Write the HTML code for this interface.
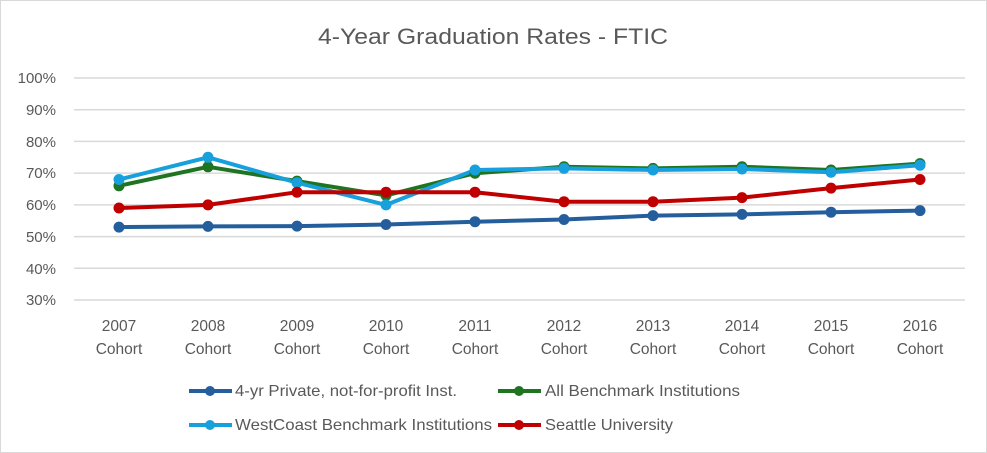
<!DOCTYPE html>
<html><head><meta charset="utf-8"><style>
html,body{margin:0;padding:0;background:#fff}
svg{display:block}
text{font-family:"Liberation Sans",sans-serif;fill:#595959}
</style></head><body>
<svg width="987" height="453" viewBox="0 0 987 453">
<rect x="0.5" y="0.5" width="986" height="452" fill="#fff" stroke="#d9d9d9"/>
<text x="318" y="44" font-size="22" textLength="350" lengthAdjust="spacingAndGlyphs">4-Year Graduation Rates - FTIC</text>
<g stroke="#d9d9d9" stroke-width="1.5">
<line x1="74" x2="965" y1="78" y2="78"/><line x1="74" x2="965" y1="109.7" y2="109.7"/>
<line x1="74" x2="965" y1="141.4" y2="141.4"/><line x1="74" x2="965" y1="173.1" y2="173.1"/>
<line x1="74" x2="965" y1="204.9" y2="204.9"/><line x1="74" x2="965" y1="236.6" y2="236.6"/>
<line x1="74" x2="965" y1="268.3" y2="268.3"/><line x1="74" x2="965" y1="300" y2="300"/>
</g>
<g font-size="15" text-anchor="end">
<text x="56" y="83">100%</text><text x="56" y="115">90%</text><text x="56" y="147">80%</text>
<text x="56" y="178">70%</text><text x="56" y="210">60%</text><text x="56" y="242">50%</text>
<text x="56" y="274">40%</text><text x="56" y="305">30%</text>
</g>
<g font-size="15.5" text-anchor="middle">
<text x="119" y="331">2007</text><text x="119" y="354">Cohort</text>
<text x="208" y="331">2008</text><text x="208" y="354">Cohort</text>
<text x="297" y="331">2009</text><text x="297" y="354">Cohort</text>
<text x="386" y="331">2010</text><text x="386" y="354">Cohort</text>
<text x="475" y="331">2011</text><text x="475" y="354">Cohort</text>
<text x="564" y="331">2012</text><text x="564" y="354">Cohort</text>
<text x="653" y="331">2013</text><text x="653" y="354">Cohort</text>
<text x="742" y="331">2014</text><text x="742" y="354">Cohort</text>
<text x="831" y="331">2015</text><text x="831" y="354">Cohort</text>
<text x="920" y="331">2016</text><text x="920" y="354">Cohort</text>
</g>
<g fill="none" stroke-width="4" stroke-linejoin="round">
<polyline stroke="#255e9c" points="119,227.1 208,226.4 297,226.1 386,224.5 475,221.7 564,219.5 653,215.6 742,214.4 831,212.2 920,210.6"/>
<polyline stroke="#1e7420" points="119,185.8 208,166.8 297,181.1 386,195.4 475,173.2 564,166.8 653,168.4 742,166.8 831,170 920,163.6"/>
<polyline stroke="#17a0db" points="119,179.5 208,157.3 297,182.7 386,204.9 475,170 564,168.4 653,170 742,169 831,172.2 920,165.2"/>
<polyline stroke="#c00000" points="119,208 208,204.9 297,192.2 386,192.2 475,192.2 564,201.7 653,201.7 742,197.6 831,188.1 920,179.5"/>
</g>
<g fill="#255e9c"><circle cx="119" cy="227.1" r="5.5"/><circle cx="208" cy="226.4" r="5.5"/><circle cx="297" cy="226.1" r="5.5"/><circle cx="386" cy="224.5" r="5.5"/><circle cx="475" cy="221.7" r="5.5"/><circle cx="564" cy="219.5" r="5.5"/><circle cx="653" cy="215.6" r="5.5"/><circle cx="742" cy="214.4" r="5.5"/><circle cx="831" cy="212.2" r="5.5"/><circle cx="920" cy="210.6" r="5.5"/></g>
<g fill="#1e7420"><circle cx="119" cy="185.8" r="5.5"/><circle cx="208" cy="166.8" r="5.5"/><circle cx="297" cy="181.1" r="5.5"/><circle cx="386" cy="195.4" r="5.5"/><circle cx="475" cy="173.2" r="5.5"/><circle cx="564" cy="166.8" r="5.5"/><circle cx="653" cy="168.4" r="5.5"/><circle cx="742" cy="166.8" r="5.5"/><circle cx="831" cy="170" r="5.5"/><circle cx="920" cy="163.6" r="5.5"/></g>
<g fill="#17a0db"><circle cx="119" cy="179.5" r="5.5"/><circle cx="208" cy="157.3" r="5.5"/><circle cx="297" cy="182.7" r="5.5"/><circle cx="386" cy="204.9" r="5.5"/><circle cx="475" cy="170" r="5.5"/><circle cx="564" cy="168.4" r="5.5"/><circle cx="653" cy="170" r="5.5"/><circle cx="742" cy="169" r="5.5"/><circle cx="831" cy="172.2" r="5.5"/><circle cx="920" cy="165.2" r="5.5"/></g>
<g fill="#c00000"><circle cx="119" cy="208" r="5.5"/><circle cx="208" cy="204.9" r="5.5"/><circle cx="297" cy="192.2" r="5.5"/><circle cx="386" cy="192.2" r="5.5"/><circle cx="475" cy="192.2" r="5.5"/><circle cx="564" cy="201.7" r="5.5"/><circle cx="653" cy="201.7" r="5.5"/><circle cx="742" cy="197.6" r="5.5"/><circle cx="831" cy="188.1" r="5.5"/><circle cx="920" cy="179.5" r="5.5"/></g>
<g stroke-width="4">
<line x1="189" x2="232" y1="391" y2="391" stroke="#255e9c"/><circle cx="210" cy="391" r="5" fill="#255e9c"/>
<line x1="498" x2="541" y1="391" y2="391" stroke="#1e7420"/><circle cx="519" cy="391" r="5" fill="#1e7420"/>
<line x1="189" x2="232" y1="425" y2="425" stroke="#17a0db"/><circle cx="210" cy="425" r="5" fill="#17a0db"/>
<line x1="498" x2="541" y1="425" y2="425" stroke="#c00000"/><circle cx="519" cy="425" r="5" fill="#c00000"/>
</g>
<g font-size="16">
<text x="235" y="396" textLength="222" lengthAdjust="spacingAndGlyphs">4-yr Private, not-for-profit Inst.</text>
<text x="545" y="396" textLength="195" lengthAdjust="spacingAndGlyphs">All Benchmark Institutions</text>
<text x="235" y="430" textLength="257" lengthAdjust="spacingAndGlyphs">WestCoast Benchmark Institutions</text>
<text x="545" y="430" textLength="128" lengthAdjust="spacingAndGlyphs">Seattle University</text>
</g>
</svg>
</body></html>
